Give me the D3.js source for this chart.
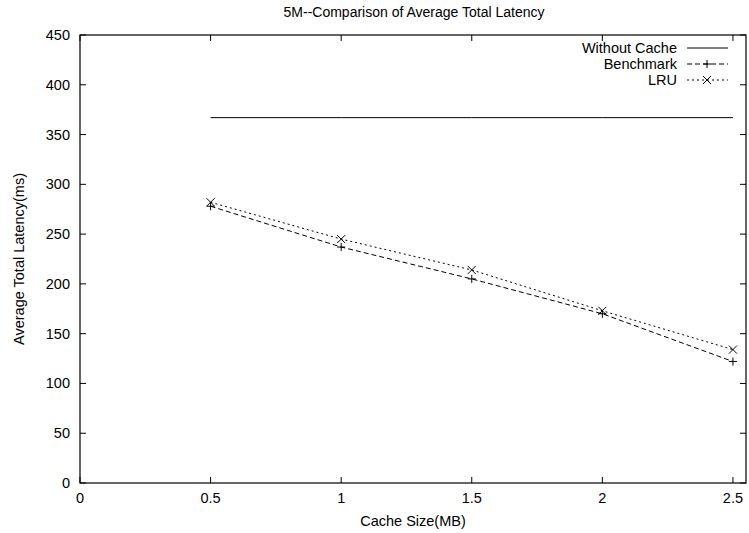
<!DOCTYPE html>
<html>
<head>
<meta charset="utf-8">
<script src="https://cdn.jsdelivr.net/npm/d3@7"></script>
<style>
  body { margin: 0; background: #fff; }
  svg { display: block; font-family: 'Liberation Sans', Arial, sans-serif; }
</style>
</head>
<body>
<div class="chart"></div>
<script>
// data
const cacheSizes = [0.5, 1, 1.5, 2, 2.5]
const withoutCache = [367, 367, 367, 367, 367]
const benchmark = [278, 237, 205, 170, 122]
const lru = [282, 245, 214, 173, 134]
const xTicks = [0, 0.5, 1, 1.5, 2, 2.5]
const yTicks = [0, 50, 100, 150, 200, 250, 300, 350, 400, 450]

const series = [
  {name: 'Without Cache', values: withoutCache, dash: null, marker: null},
  {name: 'Benchmark', values: benchmark, dash: '5,3', marker: 'plus'},
  {name: 'LRU', values: lru, dash: '2,3', marker: 'cross'}
]

const width = 749
const height = 533
const margin = {top: 35, right: 3, bottom: 50, left: 80}

const x = d3.scaleLinear().domain([0, 2.55]).range([margin.left, width - margin.right])
const y = d3.scaleLinear().domain([0, 450]).range([height - margin.bottom, margin.top])

const svg = d3.select('.chart').append('svg')
  .attr('width', width)
  .attr('height', height)

const tickLen = 6
const fs = 14.5

// frame
svg.append('rect')
  .attr('x', x(0)).attr('y', y(450))
  .attr('width', x(2.55) - x(0)).attr('height', y(0) - y(450))
  .attr('fill', 'none').attr('stroke', '#000').attr('stroke-width', 1.2)

// x ticks (inside, mirrored)
const gx = svg.append('g')
xTicks.forEach((t) => {
  gx.append('line').attr('x1', x(t)).attr('x2', x(t))
    .attr('y1', y(0)).attr('y2', y(0) - tickLen).attr('stroke', '#000')
  gx.append('line').attr('x1', x(t)).attr('x2', x(t))
    .attr('y1', y(450)).attr('y2', y(450) + tickLen).attr('stroke', '#000')
  gx.append('text').attr('x', x(t)).attr('y', y(0) + 20)
    .attr('text-anchor', 'middle').attr('font-size', fs).text(t)
})

// y ticks
const gy = svg.append('g')
yTicks.forEach((t) => {
  gy.append('line').attr('x1', x(0)).attr('x2', x(0) + tickLen)
    .attr('y1', y(t)).attr('y2', y(t)).attr('stroke', '#000')
  gy.append('line').attr('x1', x(2.55)).attr('x2', x(2.55) - tickLen)
    .attr('y1', y(t)).attr('y2', y(t)).attr('stroke', '#000')
  gy.append('text').attr('x', x(0) - 10).attr('y', y(t) + 5)
    .attr('text-anchor', 'end').attr('font-size', fs).text(t)
})

// titles
svg.append('text').attr('x', 414).attr('y', 17)
  .attr('text-anchor', 'middle').attr('font-size', 14)
  .text('5M--Comparison of Average Total Latency')
svg.append('text').attr('x', (x(0) + x(2.55)) / 2).attr('y', 526)
  .attr('text-anchor', 'middle').attr('font-size', fs).text('Cache Size(MB)')
svg.append('text')
  .attr('transform', `translate(24,${(y(0) + y(450)) / 2}) rotate(-90)`)
  .attr('text-anchor', 'middle').attr('font-size', fs).text('Average Total Latency(ms)')

const drawMarker = (g, type, cx, cy) => {
  const s = 4
  if (type === 'plus') {
    g.append('path').attr('d', `M${cx - s},${cy}H${cx + s}M${cx},${cy - s}V${cy + s}`)
      .attr('stroke', '#000').attr('stroke-width', 1)
  } else if (type === 'cross') {
    g.append('path').attr('d', `M${cx - s},${cy - s}L${cx + s},${cy + s}M${cx - s},${cy + s}L${cx + s},${cy - s}`)
      .attr('stroke', '#000').attr('stroke-width', 1)
  }
}

const line = d3.line().x((d) => x(d[0])).y((d) => y(d[1]))

series.forEach((s) => {
  const pts = cacheSizes.map((c, i) => [c, s.values[i]])
  svg.append('path').datum(pts).attr('d', line)
    .attr('fill', 'none').attr('stroke', '#000').attr('stroke-width', 1)
    .attr('stroke-dasharray', s.dash)
  if (s.marker) {
    const g = svg.append('g')
    pts.forEach((p) => drawMarker(g, s.marker, x(p[0]), y(p[1])))
  }
})

// legend
const lg = svg.append('g')
series.forEach((s, i) => {
  const ly = 48 + i * 16
  lg.append('text').attr('x', 677).attr('y', ly + 5)
    .attr('text-anchor', 'end').attr('font-size', fs).text(s.name)
  lg.append('line').attr('x1', 687).attr('x2', 728).attr('y1', ly).attr('y2', ly)
    .attr('stroke', '#000').attr('stroke-dasharray', s.dash)
  if (s.marker) drawMarker(lg, s.marker, 707, ly)
})
</script>
</body>
</html>
